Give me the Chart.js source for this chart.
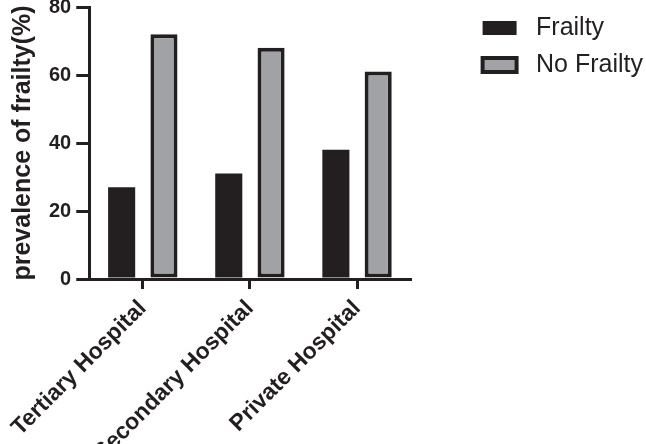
<!DOCTYPE html>
<html>
<head>
<meta charset="utf-8">
<script src="https://cdn.jsdelivr.net/npm/chart.js@4/dist/chart.umd.min.js"></script>
<style>
    html, body { margin: 0; padding: 0; background: #fff; }
    #wrap { width: 646px; height: 444px; position: relative; }
</style>
</head>
<body>
<div id="wrap"><canvas id="chart_frailty"></canvas></div>
<script>
var categories = ['Tertiary Hospital', 'Secondary Hospital', 'Private Hospital'];
var frailty = [27, 31, 38];
var noFrailty = [72, 68, 61];
var yTicks = [0, 20, 40, 60, 80];

var ink = '#231f20';
var grey = '#a1a2a6';
var fontFamily = '"Liberation Sans", Arial, sans-serif';

var showFrailtyChart = function () {
    new Chart(document.getElementById('chart_frailty'), {
        type: 'bar',
        data: {
            labels: categories,
            datasets: [{
                label: 'Frailty',
                data: frailty,
                backgroundColor: ink,
                borderColor: ink,
                borderWidth: 0
            }, {
                label: 'No Frailty',
                data: noFrailty,
                backgroundColor: grey,
                borderColor: ink,
                borderWidth: 4,
                borderSkipped: false
            }]
        },
        options: {
            responsive: true,
            maintainAspectRatio: false,
            animation: false,
            categoryPercentage: 0.79,
            barPercentage: 0.64,
            layout: {
                padding: { left: 6, top: 0, right: -7, bottom: 0 }
            },
            plugins: {
                tooltip: { enabled: false },
                legend: {
                    position: 'right',
                    align: 'start',
                    maxWidth: 260,
                    title: {
                        display: true,
                        text: ' ',
                        padding: 0,
                        font: { size: 3 }
                    },
                    labels: {
                        boxWidth: 34,
                        boxHeight: 14,
                        color: ink,
                        padding: 12,
                        font: { family: fontFamily, size: 25 },
                        generateLabels: function (chart) {
                            var items = Chart.defaults.plugins.legend.labels.generateLabels(chart);
                            items.forEach(function (item) { item.text = ' ' + item.text; });
                            return items;
                        }
                    }
                }
            },
            scales: {
                x: {
                    grid: {
                        offset: false,
                        drawOnChartArea: false,
                        drawTicks: true,
                        tickLength: 10,
                        color: ink,
                        lineWidth: 3
                    },
                    border: { display: true, color: ink, width: 3 },
                    ticks: {
                        color: ink,
                        minRotation: 45,
                        maxRotation: 45,
                        padding: 6,
                        font: { family: fontFamily, size: 23, weight: 'bold' }
                    },
                    // labels run off the edges, as in the original figure
                    afterFit: function (scale) {
                        scale.height = 165;
                        scale.paddingLeft = 0;
                    }
                },
                y: {
                    min: 0,
                    max: 80,
                    afterBuildTicks: function (scale) {
                        scale.ticks = yTicks.map(function (v) { return { value: v }; });
                    },
                    grid: {
                        drawOnChartArea: false,
                        drawTicks: true,
                        tickLength: 13,
                        color: ink,
                        lineWidth: 3
                    },
                    border: { display: true, color: ink, width: 3 },
                    ticks: {
                        color: ink,
                        padding: 5,
                        font: { family: fontFamily, size: 20, weight: 'bold', lineHeight: 0.2 }
                    },
                    title: {
                        display: true,
                        text: 'prevalence of frailty(%)',
                        color: ink,
                        padding: { top: 2, bottom: 6 },
                        font: { family: fontFamily, size: 25, weight: 'bold' }
                    }
                },
                // empty spacer keeps the plot clear of the legend
                spacer: {
                    type: 'linear',
                    position: 'right',
                    display: true,
                    grid: { display: false },
                    border: { display: false },
                    ticks: { display: false },
                    afterFit: function (scale) {
                        scale.width = 60;
                    }
                }
            }
        }
    });
};

showFrailtyChart();
</script>
</body>
</html>
